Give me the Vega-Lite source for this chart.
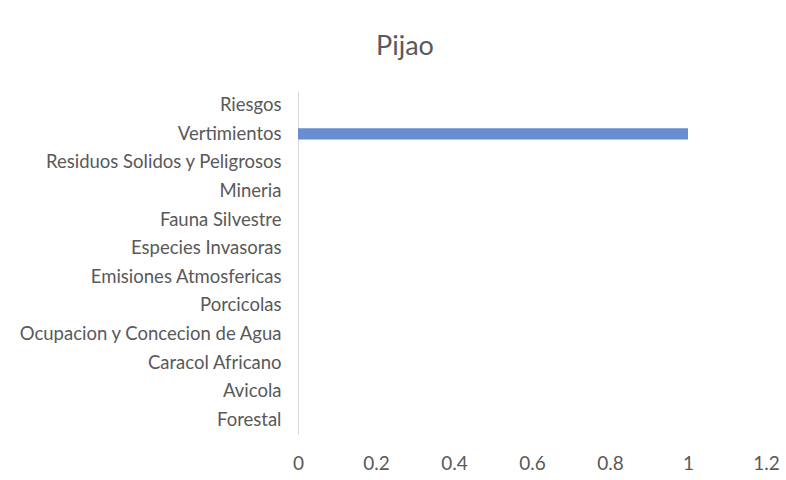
{
  "$schema": "https://vega.github.io/schema/vega-lite/v6.json",
  "autosize": {"type": "none"},
  "width": 468,
  "height": 343,
  "padding": {"left": 298, "top": 91, "right": 20, "bottom": 46},
  "background": "white",
  "title": {
    "text": "Pijao",
    "anchor": "middle",
    "dx": -127,
    "offset": 30,
    "fontSize": 27,
    "font": "Lato",
    "fontWeight": "normal",
    "color": "#595959"
  },
  "data": {
    "values": [
      {"categoria": "Riesgos", "valor": 0},
      {"categoria": "Vertimientos", "valor": 1},
      {"categoria": "Residuos Solidos y Peligrosos", "valor": 0},
      {"categoria": "Mineria ", "valor": 0},
      {"categoria": "Fauna Silvestre", "valor": 0},
      {"categoria": "Especies Invasoras ", "valor": 0},
      {"categoria": "Emisiones Atmosfericas", "valor": 0},
      {"categoria": "Porcicolas", "valor": 0},
      {"categoria": "Ocupacion y Concecion de Agua", "valor": 0},
      {"categoria": "Caracol Africano", "valor": 0},
      {"categoria": "Avicola", "valor": 0},
      {"categoria": "Forestal", "valor": 0}
    ]
  },
  "mark": {"type": "bar", "color": "#688DD0"},
  "encoding": {
    "y": {
      "field": "categoria",
      "type": "nominal",
      "sort": null,
      "scale": {"paddingInner": 0.6, "paddingOuter": 0.3},
      "axis": {
        "title": null,
        "domainColor": "#d9d9d9",
        "ticks": false,
        "labelPadding": 17,
        "labelFont": "Lato",
        "labelFontSize": 18.5,
        "labelLimit": 0,
        "labelColor": "#595959",
        "grid": false
      }
    },
    "x": {
      "field": "valor",
      "type": "quantitative",
      "scale": {"domain": [0, 1.2], "nice": false},
      "axis": {
        "title": null,
        "values": [0, 0.2, 0.4, 0.6, 0.8, 1, 1.2],
        "format": "~g",
        "domain": false,
        "ticks": false,
        "grid": false,
        "labelPadding": 20,
        "labelFont": "Lato",
        "labelFontSize": 19,
        "labelColor": "#595959",
        "labelFlush": false
      }
    }
  },
  "config": {"view": {"stroke": null}}
}
